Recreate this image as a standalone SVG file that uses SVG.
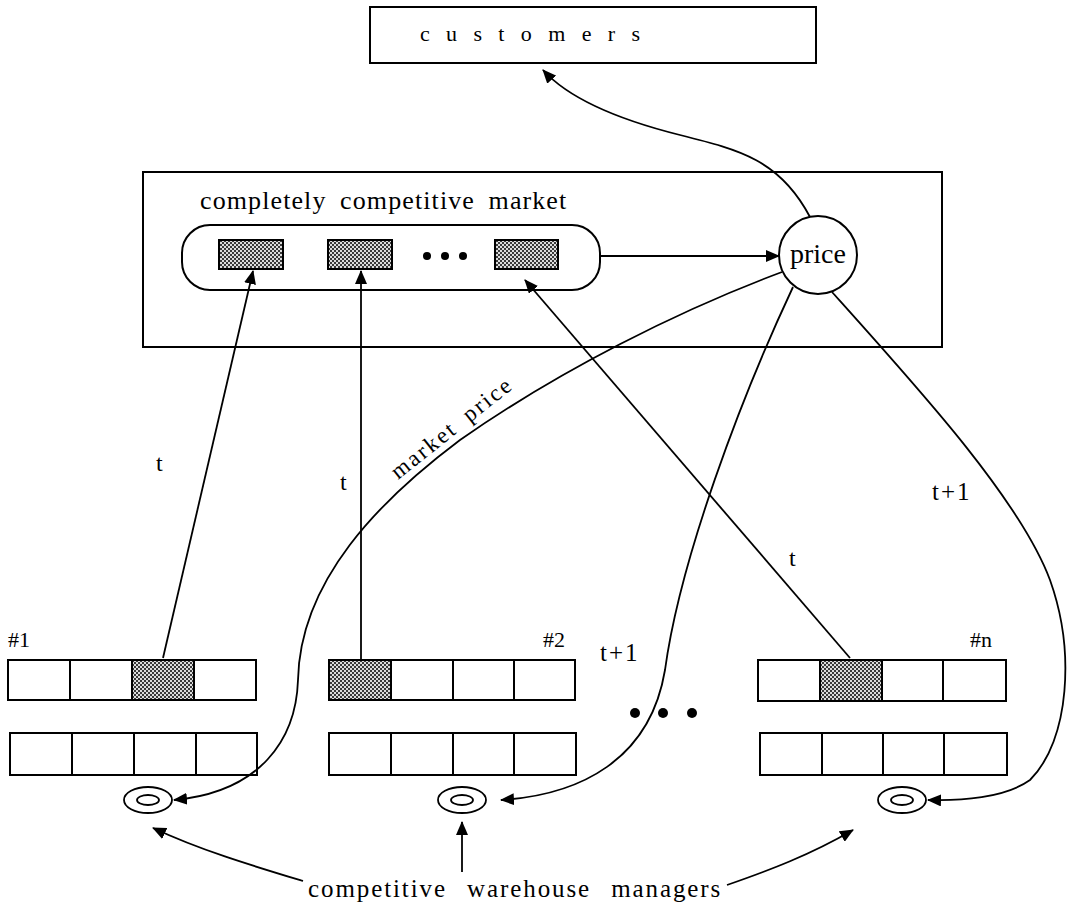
<svg xmlns="http://www.w3.org/2000/svg" width="1069" height="913" viewBox="0 0 1069 913">
  <style>
    .box { fill: #fff; stroke: #000; stroke-width: 2; }
    .cell { fill: #fff; stroke: #000; stroke-width: 2; }
    .shade { fill: url(#dots); stroke: #000; stroke-width: 2; }
    .wire { fill: none; stroke: #000; stroke-width: 1.8; }
    .ring { fill: none; stroke: #000; stroke-width: 1.8; }
    .lbl { font-family: "Liberation Serif", "Times New Roman", serif; fill: #000; }
  </style>
  <defs>
    <pattern id="dots" width="4" height="4" patternUnits="userSpaceOnUse">
      <rect width="4" height="4" fill="#dcdcdc"/>
      <rect x="0" y="0" width="2" height="2" fill="#3a3a3a"/>
      <rect x="2" y="2" width="2" height="2" fill="#3a3a3a"/>
    </pattern>
    <marker id="arrow" viewBox="0 0 14 12" refX="13" refY="6" markerWidth="14" markerHeight="12" markerUnits="userSpaceOnUse" orient="auto">
      <path d="M0,0 L14,6 L0,12 Z" fill="#000"/>
    </marker>
  </defs>

  <rect width="1069" height="913" fill="#fff"/>

  <!-- customers -->
  <g id="customers">
    <rect class="box" x="370" y="7" width="446" height="56"/>
    <text class="lbl" x="420" y="41" font-size="22" textLength="220" lengthAdjust="spacing">customers</text>
  </g>

  <!-- market -->
  <g id="market">
    <rect class="box" x="143" y="172" width="799" height="175"/>
    <text class="lbl" x="200" y="209" font-size="26" letter-spacing="1.1" word-spacing="6">completely competitive market</text>
    <rect class="box" x="182" y="225" width="418" height="65" rx="28" ry="28"/>
    <rect class="shade" x="219" y="240" width="64" height="29"/>
    <rect class="shade" x="328" y="240" width="64" height="29"/>
    <rect class="shade" x="495" y="240" width="63" height="29"/>
    <circle cx="427" cy="256" r="4"/>
    <circle cx="445" cy="256" r="4"/>
    <circle cx="463" cy="256" r="4"/>
  </g>

  <!-- price -->
  <g id="price">
    <circle class="box" cx="818" cy="255" r="39"/>
    <text class="lbl" x="790" y="263" font-size="27" textLength="56" lengthAdjust="spacingAndGlyphs">price</text>
  </g>

  <!-- warehouse #1 -->
  <g id="warehouse-1">
    <text class="lbl" x="8" y="647" font-size="22">#1</text>
    <rect class="cell" x="8" y="660" width="62" height="40"/>
    <rect class="cell" x="70" y="660" width="62" height="40"/>
    <rect class="shade" x="132" y="660" width="62" height="40"/>
    <rect class="cell" x="194" y="660" width="62" height="40"/>
    <rect class="cell" x="10" y="733" width="62" height="42"/>
    <rect class="cell" x="72" y="733" width="62" height="42"/>
    <rect class="cell" x="134" y="733" width="62" height="42"/>
    <rect class="cell" x="196" y="733" width="61" height="42"/>
    <ellipse class="ring" cx="148" cy="800" rx="24" ry="13"/>
    <ellipse class="ring" cx="148" cy="800" rx="11" ry="5"/>
  </g>

  <!-- warehouse #2 -->
  <g id="warehouse-2">
    <text class="lbl" x="543" y="647" font-size="22">#2</text>
    <rect class="shade" x="329" y="660" width="62" height="40"/>
    <rect class="cell" x="391" y="660" width="62" height="40"/>
    <rect class="cell" x="453" y="660" width="61" height="40"/>
    <rect class="cell" x="514" y="660" width="61" height="40"/>
    <rect class="cell" x="329" y="733" width="62" height="42"/>
    <rect class="cell" x="391" y="733" width="62" height="42"/>
    <rect class="cell" x="453" y="733" width="61" height="42"/>
    <rect class="cell" x="514" y="733" width="62" height="42"/>
    <ellipse class="ring" cx="462" cy="800" rx="24" ry="13"/>
    <ellipse class="ring" cx="462" cy="800" rx="11" ry="5"/>
  </g>

  <!-- warehouse #n -->
  <g id="warehouse-n">
    <text class="lbl" x="970" y="647" font-size="22">#n</text>
    <rect class="cell" x="758" y="660" width="62" height="41"/>
    <rect class="shade" x="820" y="660" width="62" height="41"/>
    <rect class="cell" x="882" y="660" width="61" height="41"/>
    <rect class="cell" x="943" y="660" width="63" height="41"/>
    <rect class="cell" x="760" y="733" width="62" height="42"/>
    <rect class="cell" x="822" y="733" width="61" height="42"/>
    <rect class="cell" x="883" y="733" width="61" height="42"/>
    <rect class="cell" x="944" y="733" width="63" height="42"/>
    <ellipse class="ring" cx="902" cy="800" rx="24" ry="13"/>
    <ellipse class="ring" cx="902" cy="800" rx="11" ry="5"/>
  </g>

  <!-- ellipsis between warehouses -->
  <g id="more-warehouses">
    <circle cx="635" cy="713" r="5"/>
    <circle cx="663" cy="713" r="5"/>
    <circle cx="692" cy="713" r="5"/>
  </g>

  <!-- managers -->
  <g id="managers">
    <text class="lbl" x="308" y="897" font-size="25" letter-spacing="1.9" word-spacing="12">competitive warehouse managers</text>
  </g>

  <!-- connectors -->
  <g id="connectors">
    <line class="wire" x1="600" y1="256" x2="779" y2="256" marker-end="url(#arrow)"/>
    <path class="wire" d="M 810 217 C 780 160, 740 150, 680 135 C 620 120, 570 100, 543 70" marker-end="url(#arrow)"/>

    <line class="wire" x1="163" y1="658" x2="253" y2="271" marker-end="url(#arrow)"/>
    <line class="wire" x1="361" y1="660" x2="361" y2="271" marker-end="url(#arrow)"/>
    <line class="wire" x1="850" y1="658" x2="525" y2="280" marker-end="url(#arrow)"/>

    <path class="wire" d="M 782 272 C 680 310, 560 370, 460 440 C 380 500, 300 580, 298 680 C 296 740, 260 792, 174 800" marker-end="url(#arrow)"/>
    <path class="wire" d="M 793 287 C 740 400, 680 560, 665 670 C 650 760, 580 795, 501 800" marker-end="url(#arrow)"/>
    <path class="wire" d="M 832 292 C 920 390, 1020 500, 1050 580 C 1075 650, 1070 740, 1030 780 C 1005 798, 960 801, 928 800" marker-end="url(#arrow)"/>

    <path class="wire" d="M 303 881 C 250 865, 200 850, 153 828" marker-end="url(#arrow)"/>
    <line class="wire" x1="462" y1="872" x2="462" y2="822" marker-end="url(#arrow)"/>
    <path class="wire" d="M 727 885 C 770 870, 810 855, 853 830" marker-end="url(#arrow)"/>

    <text class="lbl" x="156" y="471" font-size="24">t</text>
    <text class="lbl" x="340" y="490" font-size="24">t</text>
    <text class="lbl" x="789" y="566" font-size="24">t</text>
    <text class="lbl" x="600" y="661" font-size="25" letter-spacing="2">t+1</text>
    <text class="lbl" x="932" y="500" font-size="25" letter-spacing="2">t+1</text>
    <text class="lbl" x="398" y="480" font-size="23" letter-spacing="2.3" word-spacing="6" transform="rotate(-38.5 398 480)">market price</text>
  </g>
</svg>
